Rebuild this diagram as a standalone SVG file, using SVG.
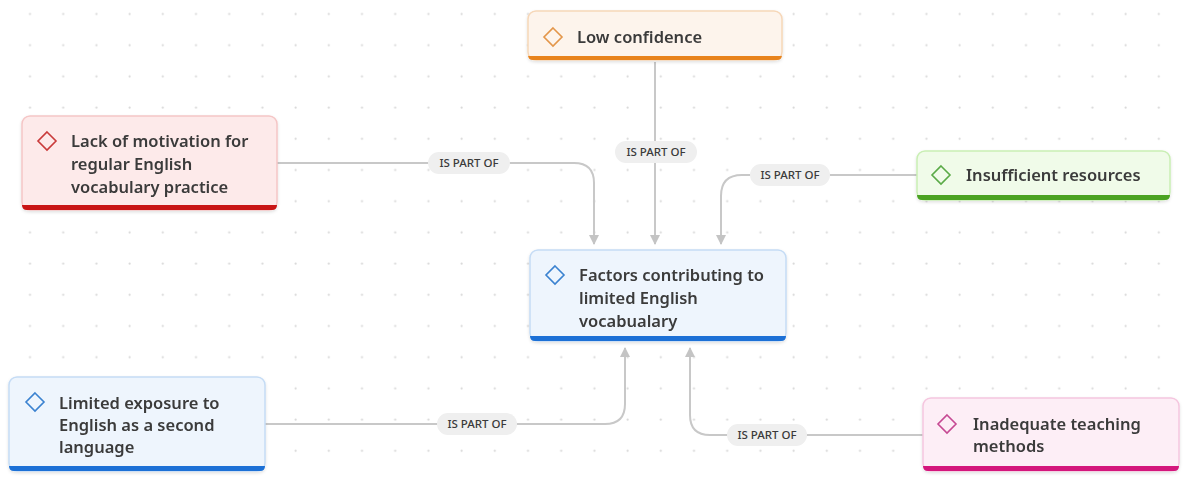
<svg xmlns="http://www.w3.org/2000/svg" width="1186" height="478" viewBox="0 0 1186 478">
<defs>
<pattern id="dots" x="28.4" y="12.4" width="33.2" height="31.2" patternUnits="userSpaceOnUse">
<circle cx="1.6" cy="1.6" r="1.1" fill="#d9d9d9"/>
</pattern>
<marker id="arr" viewBox="0 0 10 10" refX="9" refY="5" markerWidth="5" markerHeight="5" orient="auto" markerUnits="strokeWidth">
<path d="M0,0 L10,5 L0,10 z" fill="#c4c4c4"/>
</marker>
<filter id="sh" x="-10%" y="-20%" width="120%" height="150%">
<feDropShadow dx="0" dy="1.5" stdDeviation="1.5" flood-color="#000" flood-opacity="0.12"/>
</filter>
</defs>
<style>
.t{font-family:"Noto Sans","Open Sans","Liberation Sans",sans-serif;font-size:16.5px;font-weight:600;fill:#3a3a3a}
.l{font-family:"Noto Sans","Open Sans","Liberation Sans",sans-serif;font-size:11.5px;font-weight:500;fill:#3a3a3a;text-anchor:middle}
.pill{fill:#efefef}
.c{fill:none;stroke:#c8c8c8;stroke-width:2}
.dm{fill:none;stroke-width:1.6}
</style>
<rect width="1186" height="478" fill="#ffffff"/>
<rect width="1186" height="478" fill="url(#dots)"/>

<g id="connectors">
<path class="c" d="M277,163 H574 Q594,163 594,183 V244" marker-end="url(#arr)"/>
<path class="c" d="M655,62 V244" marker-end="url(#arr)"/>
<path class="c" d="M917,175 H742 Q721,175 721,196 V244" marker-end="url(#arr)"/>
<path class="c" d="M265,424 H605 Q625,424 625,404 V348" marker-end="url(#arr)"/>
<path class="c" d="M923,435 H710 Q690,435 690,415 V348" marker-end="url(#arr)"/>
<rect class="pill" x="428" y="152" width="82" height="22" rx="11"/>
<text class="l" x="469" y="167">IS PART OF</text>
<rect class="pill" x="615" y="141" width="82" height="22" rx="11"/>
<text class="l" x="656" y="156">IS PART OF</text>
<rect class="pill" x="750" y="164" width="80" height="22" rx="11"/>
<text class="l" x="790" y="179">IS PART OF</text>
<rect class="pill" x="437" y="413" width="80" height="22" rx="11"/>
<text class="l" x="477" y="428">IS PART OF</text>
<rect class="pill" x="727" y="424" width="80" height="22" rx="11"/>
<text class="l" x="767" y="439">IS PART OF</text>
</g>

<g id="node-low-confidence" filter="url(#sh)">
<rect x="528" y="11" width="254" height="49" rx="8" fill="#fdf4ec" stroke="#f6d7b8" stroke-width="1.5"/>
<path d="M528,56 H782 V53 V55 Q782,60 777,60 H533 Q528,60 528,55 Z" fill="#e8831c"/>
<path class="dm" stroke="#e3964a" d="M553,28 L562,37 L553,46 L544,37 Z"/>
<text class="t" x="577" y="43">Low confidence</text>
</g>

<g id="node-lack-motivation" filter="url(#sh)">
<rect x="22" y="116" width="255" height="94" rx="8" fill="#fdeaea" stroke="#f5c6c6" stroke-width="1.5"/>
<path d="M22,205 H277 V205 Q277,210 272,210 H27 Q22,210 22,205 Z" fill="#c91414"/>
<path class="dm" stroke="#c93a3a" d="M47,132 L56,141 L47,150 L38,141 Z"/>
<text class="t" x="71" y="147">Lack of motivation for</text>
<text class="t" x="71" y="170">regular English</text>
<text class="t" x="71" y="193">vocabulary practice</text>
</g>

<g id="node-insufficient" filter="url(#sh)">
<rect x="917" y="151" width="253" height="49" rx="8" fill="#f0fbe9" stroke="#c9efb4" stroke-width="1.5"/>
<path d="M917,195 H1170 Q1170,200 1165,200 H922 Q917,200 917,195 Z" fill="#4ba321"/>
<path class="dm" stroke="#5aaa46" d="M941,166 L950,175 L941,184 L932,175 Z"/>
<text class="t" x="966" y="181">Insufficient resources</text>
</g>

<g id="node-center" filter="url(#sh)">
<rect x="530" y="250" width="256" height="91" rx="8" fill="#eef5fd" stroke="#c5dcf5" stroke-width="1.5"/>
<path d="M530,336 H786 Q786,341 781,341 H535 Q530,341 530,336 Z" fill="#1a6fd6"/>
<path class="dm" stroke="#3a82d0" d="M555,266 L564,275 L555,284 L546,275 Z"/>
<text class="t" x="579" y="281">Factors contributing to</text>
<text class="t" x="579" y="304">limited English</text>
<text class="t" x="579" y="327">vocabualary</text>
</g>

<g id="node-limited-exposure" filter="url(#sh)">
<rect x="9" y="377" width="256" height="94" rx="8" fill="#eef5fd" stroke="#c5dcf5" stroke-width="1.5"/>
<path d="M9,466 H265 Q265,471 260,471 H14 Q9,471 9,466 Z" fill="#1a6fd6"/>
<path class="dm" stroke="#3a82d0" d="M35,393 L44,402 L35,411 L26,402 Z"/>
<text class="t" x="59" y="409">Limited exposure to</text>
<text class="t" x="59" y="431">English as a second</text>
<text class="t" x="59" y="453">language</text>
</g>

<g id="node-inadequate" filter="url(#sh)">
<rect x="923" y="398" width="256" height="73" rx="8" fill="#fdeef6" stroke="#f5c6df" stroke-width="1.5"/>
<path d="M923,466 H1179 Q1179,471 1174,471 H928 Q923,471 923,466 Z" fill="#d4147c"/>
<path class="dm" stroke="#c64a93" d="M947,415 L956,424 L947,433 L938,424 Z"/>
<text class="t" x="973" y="430">Inadequate teaching</text>
<text class="t" x="973" y="452">methods</text>
</g>
</svg>
